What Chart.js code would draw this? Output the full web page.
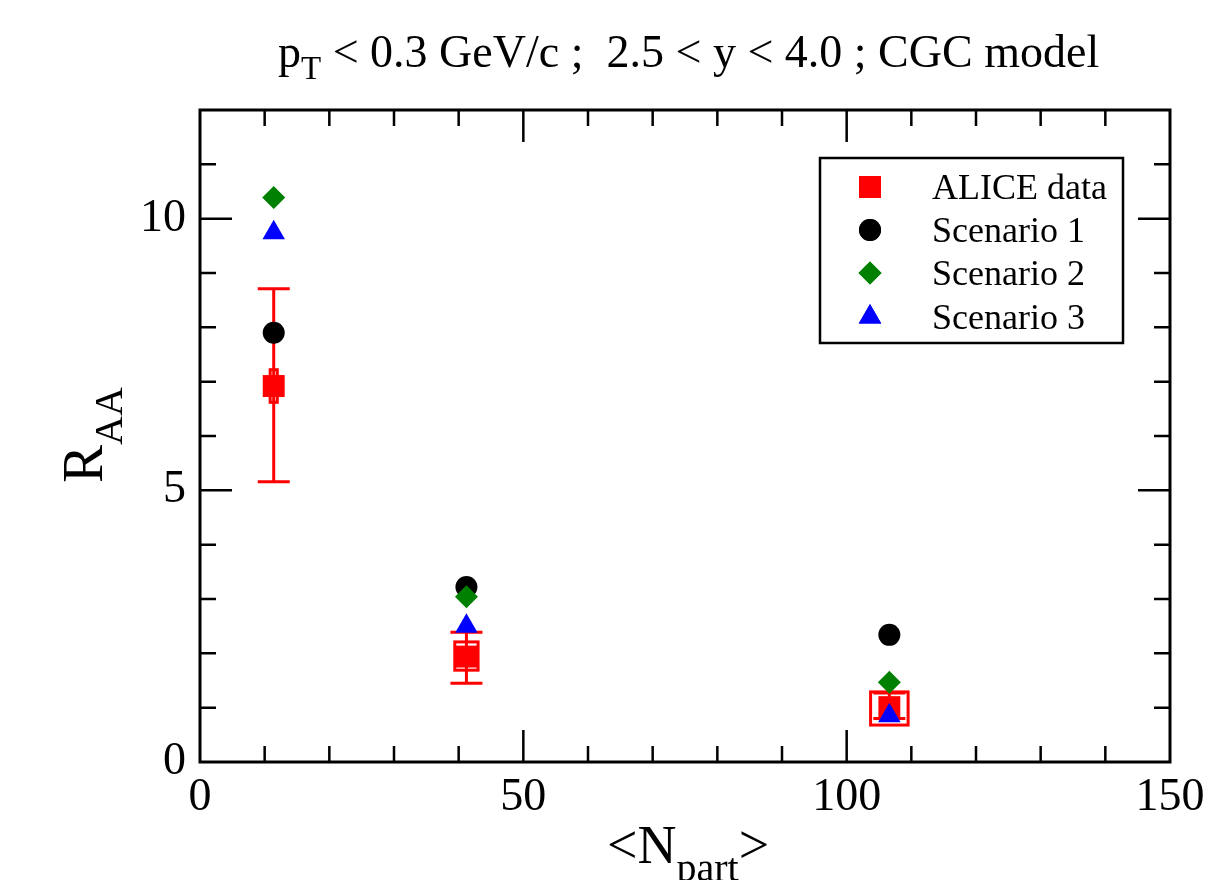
<!DOCTYPE html>
<html>
<head>
<meta charset="utf-8">
<script src="https://cdn.jsdelivr.net/npm/chart.js@4.4.0/dist/chart.umd.min.js"></script>
<style>
  html, body { margin: 0; padding: 0; background: #fff; }
  #wrap { width: 1219px; height: 880px; position: relative; }
</style>
</head>
<body>
<div id="wrap"><canvas id="raaChart"></canvas></div>
<script>
// values
const nPart = [11.4, 41.2, 106.6];
const aliceRaa = [6.92, 1.94, 1.01];
const aliceStatLow = [5.16, 1.45, 0.80];
const aliceStatHigh = [8.71, 2.39, 1.27];
const aliceSysLow = [6.62, 1.69, 0.68];
const aliceSysHigh = [7.22, 2.21, 1.29];
const aliceSysHalfWidth = [0.55, 1.8, 2.9];
const scenario1 = [7.90, 3.22, 2.34];
const scenario2 = [10.39, 3.04, 1.47];
const scenario3 = [9.74, 2.50, 0.85];
const xTicks = [0, 50, 100, 150];
const yTicks = [0, 5, 10];
const xMinorStep = 10;
const yMinorStep = 1;

const SERIF = '"Liberation Serif", "DejaVu Serif", serif';

function toPoints(ys) {
    return nPart.map((x, i) => ({ x: x, y: ys[i] }));
}

const datasets = [
    { label: 'ALICE data', data: toPoints(aliceRaa), pointStyle: 'rect', pointRadius: 15.5,
      backgroundColor: '#ff0000', borderColor: '#ff0000', borderWidth: 0, order: 4 },
    { label: 'Scenario 1', data: toPoints(scenario1), pointStyle: 'circle', pointRadius: 11,
      backgroundColor: '#000000', borderColor: '#000000', borderWidth: 0, order: 3 },
    { label: 'Scenario 2', data: toPoints(scenario2), pointStyle: 'rectRot', pointRadius: 11.5,
      backgroundColor: '#008000', borderColor: '#008000', borderWidth: 0, order: 2 },
    { label: 'Scenario 3', data: toPoints(scenario3), pointStyle: 'triangle', pointRadius: 13,
      backgroundColor: '#0000ff', borderColor: '#0000ff', borderWidth: 0, order: 1 }
];

// draw text with subscript parts: [[text, isSub], ...]
function drawRich(ctx, parts, x, y, mainSize, subSize, subShift) {
    let cx = x;
    parts.forEach(([txt, sub]) => {
        ctx.font = (sub ? subSize : mainSize) + 'px ' + SERIF;
        ctx.fillText(txt, cx, sub ? y + subShift : y);
        cx += ctx.measureText(txt).width;
    });
    return cx - x;
}

// error bars and systematic boxes go under the markers
const errorBars = {
    id: 'errorBars',
    beforeDatasetsDraw(chart) {
        const { ctx, scales: { x, y } } = chart;
        ctx.save();
        ctx.strokeStyle = '#ff0000';
        ctx.lineWidth = 3;
        nPart.forEach((n, i) => {
            const px = x.getPixelForValue(n);
            const yLo = y.getPixelForValue(aliceStatLow[i]);
            const yHi = y.getPixelForValue(aliceStatHigh[i]);
            ctx.beginPath();
            ctx.moveTo(px, yLo); ctx.lineTo(px, yHi);
            ctx.moveTo(px - 16, yLo); ctx.lineTo(px + 16, yLo);
            ctx.moveTo(px - 16, yHi); ctx.lineTo(px + 16, yHi);
            ctx.stroke();
            const bx0 = x.getPixelForValue(n - aliceSysHalfWidth[i]);
            const bx1 = x.getPixelForValue(n + aliceSysHalfWidth[i]);
            const by0 = y.getPixelForValue(aliceSysHigh[i]);
            const by1 = y.getPixelForValue(aliceSysLow[i]);
            ctx.strokeRect(bx0, by0, bx1 - bx0, by1 - by0);
        });
        ctx.restore();
    }
};

// frame, inward ticks, titles and legend
const decorations = {
    id: 'decorations',
    afterDraw(chart) {
        const { ctx, chartArea: a, scales: { x, y } } = chart;
        ctx.save();
        ctx.strokeStyle = '#000';
        ctx.lineWidth = 3;
        ctx.strokeRect(a.left, a.top, a.right - a.left, a.bottom - a.top);

        ctx.lineWidth = 2.5;
        ctx.beginPath();
        for (let v = x.min; v <= x.max + 1e-9; v += xMinorStep) {
            const px = x.getPixelForValue(v);
            const len = xTicks.includes(v) ? 32 : 16;
            if (v > x.min && v < x.max) {
                ctx.moveTo(px, a.bottom); ctx.lineTo(px, a.bottom - len);
                ctx.moveTo(px, a.top); ctx.lineTo(px, a.top + len);
            }
        }
        for (let v = y.min; v <= y.max + 1e-9; v += yMinorStep) {
            const py = y.getPixelForValue(v);
            const len = yTicks.includes(v) ? 32 : 16;
            if (v > y.min && v < y.max) {
                ctx.moveTo(a.left, py); ctx.lineTo(a.left + len, py);
                ctx.moveTo(a.right, py); ctx.lineTo(a.right - len, py);
            }
        }
        ctx.stroke();

        ctx.fillStyle = '#000';
        ctx.textBaseline = 'alphabetic';
        ctx.textAlign = 'left';

        // title
        drawRich(ctx, [['p', false], ['T', true], [' < 0.3 GeV/c ;  2.5 < y < 4.0 ; CGC model', false]],
            278, 67, 46, 33, 12);

        // x axis title
        drawRich(ctx, [['<N', false], ['part', true], ['>', false]], 607, 863, 54, 40, 18);

        // y axis title
        ctx.save();
        ctx.translate(102, 483);
        ctx.rotate(-Math.PI / 2);
        drawRich(ctx, [['R', false], ['AA', true]], 0, 0, 57, 40, 20);
        ctx.restore();

        // legend
        ctx.lineWidth = 2.5;
        ctx.strokeRect(820, 158, 303, 185);
        const rows = [187, 230, 273, 317];
        chart.data.datasets.forEach((ds, i) => {
            ctx.fillStyle = ds.backgroundColor;
            Chart.helpers.drawPoint(ctx, {
                pointStyle: ds.pointStyle, radius: ds.pointRadius, borderWidth: 0, rotation: 0
            }, 870, rows[i]);
            ctx.fill();
            ctx.fillStyle = '#000';
            ctx.font = '36px ' + SERIF;
            ctx.fillText(ds.label, 932, rows[i] + 12);
        });
        ctx.restore();
    }
};

new Chart(document.getElementById('raaChart'), {
    type: 'scatter',
    data: { datasets: datasets },
    options: {
        responsive: true,
        maintainAspectRatio: false,
        animation: false,
        layout: { padding: { left: 0, top: 110, right: 49, bottom: 0 } },
        plugins: { legend: { display: false }, tooltip: { enabled: false } },
        scales: {
            x: {
                type: 'linear', min: 0, max: 150,
                afterBuildTicks: s => { s.ticks = xTicks.map(v => ({ value: v })); },
                afterFit: s => { s.height = 118; },
                grid: { display: false, drawTicks: false },
                border: { display: false },
                ticks: { color: '#000', padding: 8, font: { family: SERIF, size: 46 } }
            },
            y: {
                type: 'linear', min: 0, max: 12,
                afterBuildTicks: s => { s.ticks = yTicks.map(v => ({ value: v })); },
                afterFit: s => { s.width = 200; },
                grid: { display: false, drawTicks: false },
                border: { display: false },
                ticks: { color: '#000', padding: 14, font: { family: SERIF, size: 46 } }
            }
        }
    },
    plugins: [errorBars, decorations]
});
</script>
</body>
</html>
